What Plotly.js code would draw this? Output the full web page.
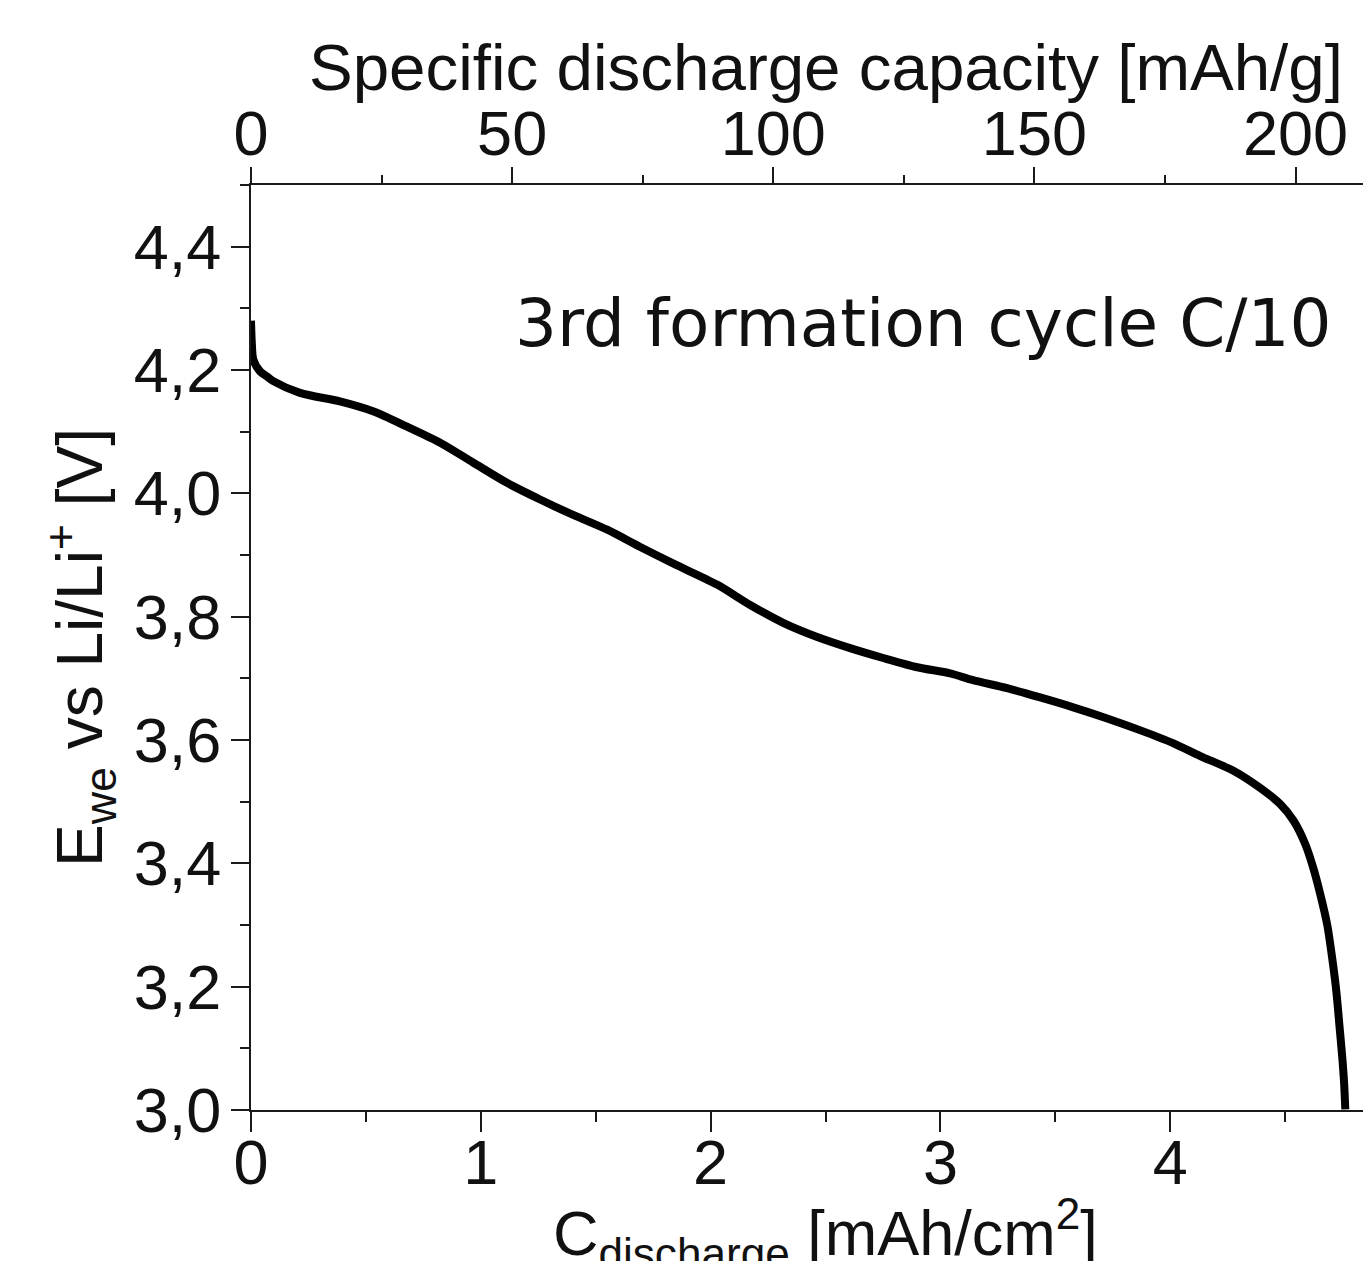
<!DOCTYPE html>
<html>
<head>
<meta charset="utf-8">
<script src="https://cdn.plot.ly/plotly-3.0.1.min.js"></script>
<style>
html, body { margin: 0; padding: 0; overflow: hidden; background: #ffffff; }
#chart { width: 1420px; height: 1330px; }
</style>
</head>
<body>
<div id="chart"></div>
<script>
// Areal discharge capacity [mAh/cm2] (bottom axis)
const capacityArea = [0, 0.004, 0.010, 0.039, 0.068, 0.097, 0.213, 0.387, 0.531, 0.679, 0.823, 0.966,
  1.114, 1.258, 1.402, 1.550, 1.694, 1.850, 2.028, 2.172, 2.316, 2.464, 2.607, 2.751, 2.899,
  3.042, 3.142, 3.290, 3.434, 3.578, 3.726, 3.868, 4.012, 4.131, 4.275, 4.392, 4.479, 4.537,
  4.588, 4.623, 4.653, 4.683, 4.705, 4.723, 4.736, 4.749, 4.757, 4.762];
// Working electrode potential vs Li/Li+ [V]
const voltage = [4.280, 4.240, 4.217, 4.198, 4.190, 4.182, 4.163, 4.149, 4.133, 4.108, 4.082, 4.050,
  4.017, 3.990, 3.965, 3.941, 3.913, 3.884, 3.852, 3.819, 3.790, 3.767, 3.749, 3.733, 3.718,
  3.708, 3.697, 3.684, 3.669, 3.653, 3.635, 3.616, 3.595, 3.574, 3.550, 3.522, 3.496, 3.469,
  3.431, 3.392, 3.350, 3.301, 3.246, 3.192, 3.139, 3.084, 3.042, 3.001];

const areaRange = [0, 5];          // mAh/cm2
const specificRange = [0, 220];    // mAh/g (top axis)
const voltageRange = [3.0, 4.5];

const bottomTitle = 'C<sub>discharge</sub> [mAh/cm<sup>2</sup>]';
const topTitle = 'Specific discharge capacity [mAh/g]';
const leftTitle = 'E<sub>we</sub> vs Li/Li<sup>+</sup> [V]';
const noteText = '3rd formation cycle C/10';

const AX = '#1a1a1a';
const FONT = 'Liberation Sans, Arial, sans-serif';

const curve = {
  x: capacityArea,
  y: voltage,
  type: 'scatter',
  mode: 'lines',
  line: { color: '#000000', width: 8, shape: 'spline', smoothing: 0.8 },
  hoverinfo: 'skip',
  showlegend: false
};

// empty helper trace so that the top (specific capacity) axis is drawn
const topAxisHolder = {
  x: specificRange,
  y: [null, null],
  xaxis: 'x2', yaxis: 'y',
  type: 'scatter', mode: 'lines',
  hoverinfo: 'skip', showlegend: false
};

const common = {
  showline: true, linecolor: AX, linewidth: 2,
  ticks: 'outside', tickwidth: 2, tickcolor: AX,
  showgrid: false, zeroline: false, automargin: false,
  tickfont: { family: FONT, size: 63, color: '#111' }
};

const layout = {
  width: 1420, height: 1330,
  margin: { l: 251, r: 20, t: 185, b: 220, pad: 0 },
  paper_bgcolor: '#ffffff', plot_bgcolor: '#ffffff',
  separators: ',.',
  showlegend: false,
  xaxis: Object.assign({}, common, {
    range: areaRange, tick0: 0, dtick: 1, ticklen: 20,
    ticklabelstandoff: -24,
    minor: { dtick: 0.5, ticklen: 10, tickwidth: 2, tickcolor: AX, ticks: 'outside' }
  }),
  xaxis2: Object.assign({}, common, {
    overlaying: 'x', side: 'top', anchor: 'y',
    range: specificRange, tick0: 0, dtick: 50, ticklen: 16,
    ticklabelstandoff: -13,
    minor: { dtick: 25, ticklen: 8, tickwidth: 2, tickcolor: AX, ticks: 'outside' }
  }),
  yaxis: Object.assign({}, common, {
    range: voltageRange, tick0: 3.0, dtick: 0.2, ticklen: 18, tickformat: '.1f',
    ticklabelstandoff: -3,
    minor: { dtick: 0.1, ticklen: 9, tickwidth: 2, tickcolor: AX, ticks: 'outside' },
    title: { text: leftTitle, font: { family: FONT, size: 64, color: '#111' }, standoff: 10 }
  }),
  annotations: [
    {
      text: noteText, xref: 'x', yref: 'y', x: 4.707, y: 4.275,
      xanchor: 'right', yanchor: 'middle', showarrow: false,
      font: { family: 'DejaVu Sans, Verdana, sans-serif', size: 66, color: '#111' }
    },
    {
      text: topTitle, xref: 'paper', yref: 'paper', x: 0.5, y: 1,
      xanchor: 'center', yanchor: 'bottom', yshift: 79, showarrow: false,
      font: { family: FONT, size: 65.5, color: '#111' }
    },
    {
      text: bottomTitle, xref: 'paper', yref: 'paper', x: 0.5, y: 0,
      xanchor: 'center', yanchor: 'top', yshift: -77, showarrow: false,
      font: { family: FONT, size: 63, color: '#111' }
    }
  ]
};

Plotly.newPlot('chart', [curve, topAxisHolder], layout, { staticPlot: true, displayModeBar: false });
</script>
</body>
</html>
